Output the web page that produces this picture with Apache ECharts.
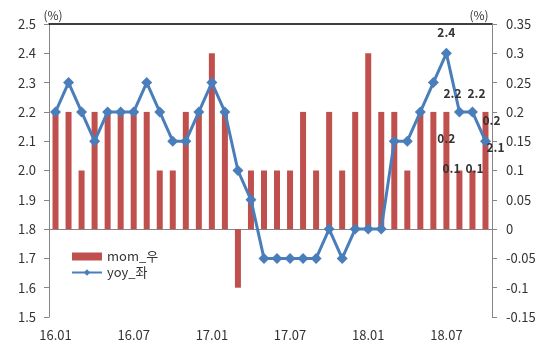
<!DOCTYPE html>
<html>
<head>
<meta charset="utf-8">
<script src="https://cdn.jsdelivr.net/npm/echarts@6/dist/echarts.min.js"></script>
<style>
  html, body { margin: 0; padding: 0; background: #fff; }
  #chartMain { width: 539px; height: 346px; }
</style>
</head>
<body>
<div id="chartMain"></div>
<script>
// 월별 (16.01 ~ 18.10)
var months = ['16.01','16.02','16.03','16.04','16.05','16.06','16.07','16.08','16.09','16.10','16.11','16.12',
              '17.01','17.02','17.03','17.04','17.05','17.06','17.07','17.08','17.09','17.10','17.11','17.12',
              '18.01','18.02','18.03','18.04','18.05','18.06','18.07','18.08','18.09','18.10'];
// mom (우축)
var momValues = [0.2,0.2,0.1,0.2,0.2,0.2,0.2,0.2,0.1,0.1,0.2,0.2,
                 0.3,0.2,-0.1,0.1,0.1,0.1,0.1,0.2,0.1,0.2,0.1,0.2,
                 0.3,0.2,0.2,0.1,0.2,0.2,0.2,0.1,0.1,0.2];
// yoy (좌축)
var yoyValues = [2.2,2.3,2.2,2.1,2.2,2.2,2.2,2.3,2.2,2.1,2.1,2.2,
                 2.3,2.2,2.0,1.9,1.7,1.7,1.7,1.7,1.7,1.8,1.7,1.8,
                 1.8,1.8,2.1,2.1,2.2,2.3,2.4,2.2,2.2,2.1];
// 라벨 표시 (index : offset)
var momLabelOffsets = { 30: [0, 33], 31: [-8, 4], 32: [2, 4], 33: [6, 15] };
var yoyLabelOffsets = { 30: [0, -9], 31: [-7, -7], 32: [4, -7], 33: [10, 18] };

var fontFamily = '"Noto Sans CJK KR", "Noto Sans", sans-serif';
var textColor = '#333';
var axisColor = '#868686';

function withLabels(values, offsets) {
	return values.map(function(v, i) {
		if (offsets[i]) {
			return { value: v, label: { show: true, offset: offsets[i] } };
		}
		return v;
	});
}

var myChart = echarts.init(document.getElementById('chartMain'));

var option = {
	animation: false,
	textStyle: { fontFamily: fontFamily },
	grid: { left: 49, right: 47, top: 24, bottom: 29 },
	legend: {
		orient: 'vertical',
		left: 66,
		top: 245,
		itemWidth: 30,
		itemHeight: 8,
		itemGap: 3,
		textStyle: { fontSize: 13, color: textColor, fontFamily: fontFamily },
		data: [{ name: 'mom_우', icon: 'rect' }, { name: 'yoy_좌' }]
	},
	xAxis: [{
		type: 'category',
		data: months,
		axisLine: { lineStyle: { color: axisColor } },
		axisTick: { interval: 5, length: 5, lineStyle: { color: axisColor } },
		axisLabel: { interval: 5, margin: 12, fontSize: 13, color: textColor, fontFamily: fontFamily }
	}, {
		// 상단 테두리
		type: 'category',
		data: months,
		position: 'top',
		axisLine: { lineStyle: { color: '#000', width: 1.5 } },
		axisTick: { show: false },
		axisLabel: { show: false }
	}],
	yAxis: [{
		type: 'value',
		min: 1.5,
		max: 2.5,
		interval: 0.1,
		name: '(%)',
		nameGap: 3,
		nameTextStyle: { fontSize: 12, color: textColor, padding: [0, 0, 0, 8] },
		splitLine: { show: false },
		axisLine: { show: true, lineStyle: { color: axisColor } },
		axisTick: { show: true, length: 5, lineStyle: { color: axisColor } },
		axisLabel: {
			margin: 13, fontSize: 13, color: textColor,
			formatter: function(v) { return v.toFixed(1); }
		}
	}, {
		type: 'value',
		min: -0.15,
		max: 0.35,
		interval: 0.05,
		name: '(%)',
		nameGap: 3,
		nameTextStyle: { fontSize: 12, color: textColor, padding: [0, 26, 0, 0] },
		splitLine: { show: false },
		axisLine: { show: true, lineStyle: { color: axisColor } },
		axisTick: { show: true, length: 5, lineStyle: { color: axisColor } },
		axisLabel: {
			margin: 14, fontSize: 13, color: textColor,
			formatter: function(v) { return String(parseFloat(v.toFixed(2))); }
		}
	}],
	series: [{
		name: 'mom_우',
		type: 'bar',
		yAxisIndex: 1,
		barWidth: 6,
		itemStyle: { color: '#C0504D' },
		label: {
			show: false, position: 'top', distance: 0,
			fontSize: 12, fontWeight: 'bold', color: textColor, fontFamily: fontFamily
		},
		data: withLabels(momValues, momLabelOffsets)
	}, {
		name: 'yoy_좌',
		type: 'line',
		yAxisIndex: 0,
		z: 5,
		symbol: 'diamond',
		symbolSize: 11,
		showSymbol: true,
		showAllSymbol: true,
		lineStyle: { color: '#4A7EBB', width: 3 },
		itemStyle: { color: '#4A7EBB' },
		label: {
			show: false, position: 'top', distance: 0,
			fontSize: 12, fontWeight: 'bold', color: textColor, fontFamily: fontFamily
		},
		data: withLabels(yoyValues, yoyLabelOffsets)
	}]
};

myChart.setOption(option);
</script>
</body>
</html>
